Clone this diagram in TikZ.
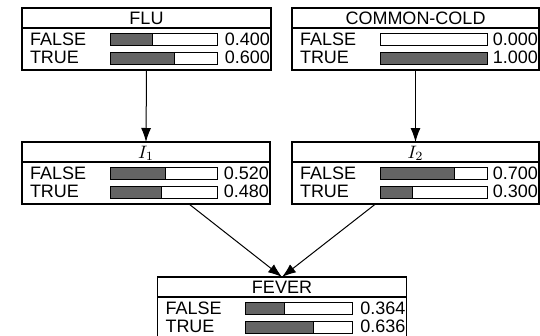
\documentclass[tikz,border=0pt]{standalone}
\usepackage{graphicx}
\usepackage{fontspec}
\setmainfont{Liberation Sans}
\usetikzlibrary{arrows.meta,calc}

\definecolor{barfill}{RGB}{100,100,100}

\tikzset{
  bnbox/.style={draw, line width=1.2pt, minimum width=#1, minimum height=62pt,
                anchor=north west, inner sep=0pt, outer sep=0pt},
  txt/.style={inner sep=0pt, outer sep=0pt, font=\fontsize{18}{20}\selectfont},
  barframe/.style={draw, line width=0.9pt},
  barfull/.style={draw, line width=0.9pt, fill=barfill},
  link/.style={draw, line width=1pt, -{Latex[length=14pt,width=10pt]}}
}

% math title at the size of the text around it
\newcommand\mtitle[1]{\scalebox{1.8}{\fontsize{10}{12}\selectfont$#1$}}

% one bar of a belief: #1 box name, #2 top offset (pt), #3 probability
\newcommand\beliefbar[3]{%
  \coordinate (bb) at ([shift={(88pt,-#2pt)}]#1.north west);
  \ifdim #3pt>0pt
    \path[barfull] (bb) rectangle ++({#3*107pt},-12pt);
  \fi
  \path[barframe] (bb) rectangle ++(107pt,-12pt);
}

% a network variable: #1 name, #2 left, #3 top, #4 width, #5 title,
% #6 P(FALSE), #7 P(TRUE)
\newcommand\bnvar[7]{%
  \node[bnbox=#4pt] (#1) at (#2,#3) {};
  \draw[line width=1.2pt] ([yshift=-20pt]#1.north west) -- ([yshift=-20pt]#1.north east);
  \node[txt, anchor=base] at ([yshift=-16pt]#1.north) {#5};
  \node[txt, anchor=base west] at ([shift={(8pt,-37pt)}]#1.north west) {FALSE};
  \node[txt, anchor=base west] at ([shift={(8pt,-55.5pt)}]#1.north west) {TRUE};
  \node[txt, anchor=base east] at ([shift={(-1pt,-37pt)}]#1.north east) {#6};
  \node[txt, anchor=base east] at ([shift={(-1pt,-55.5pt)}]#1.north east) {#7};
  \beliefbar{#1}{25.5}{#6}
  \beliefbar{#1}{44}{#7}
}

\begin{document}
\begin{tikzpicture}[x=1pt,y=-1pt]
  \clip (0,0) rectangle (540,335);

  \bnvar{flu}{22}{8}{249}{FLU}{0.400}{0.600}
  \bnvar{cold}{292}{8}{247}{COMMON-COLD}{0.000}{1.000}
  \bnvar{ione}{22}{142}{248}{\mtitle{I_1}}{0.520}{0.480}
  \bnvar{itwo}{292}{142}{247}{\mtitle{I_2}}{0.700}{0.300}
  \bnvar{fever}{157.5}{277}{249}{FEVER}{0.364}{0.636}

  \path[link] (flu.south) -- (ione.north);
  \path[link] (cold.south) -- (itwo.north);
  \path[link] ([xshift=43pt]ione.south) -- (fever.north);
  \path[link] ([xshift=-40pt]itwo.south) -- (fever.north);
\end{tikzpicture}
\end{document}
